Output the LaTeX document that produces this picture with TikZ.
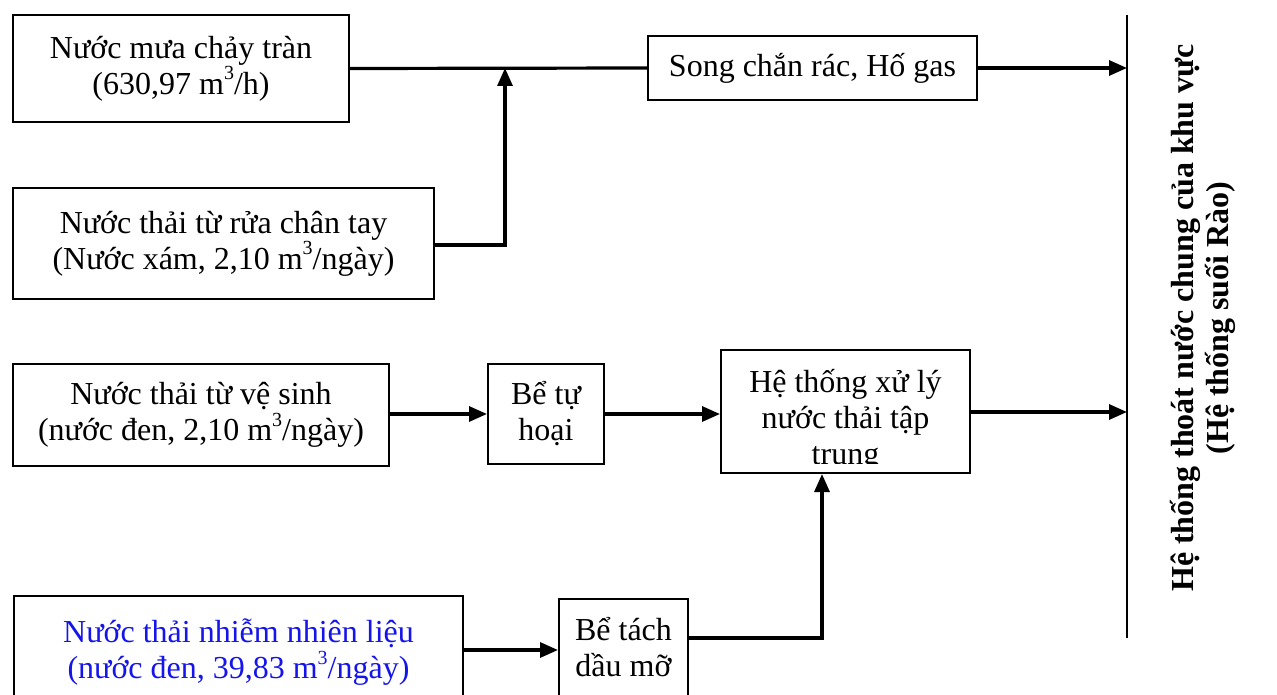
\documentclass[tikz,border=0pt]{standalone}
\usepackage{fontspec}
\setmainfont{Liberation Serif}
\usetikzlibrary{arrows.meta}
\definecolor{fuelblue}{RGB}{20,20,235}
% cubic-metre exponent
\newcommand\cubexp{\raisebox{.45em}{\fontsize{20}{20}\selectfont 3}}
\tikzset{
  boxfont/.style={font=\fontsize{32}{36}\selectfont},
  box/.style={draw, line width=2pt, align=center, inner sep=0pt, boxfont},
  flow/.style={line width=3.2pt},
  flowarrow/.style={flow, -{Triangle[length=18pt,width=15pt]}},
}
\begin{document}
\begin{tikzpicture}[x=1pt,y=-1pt]
\useasboundingbox (0,0) rectangle (1277,695);

% source boxes
\node[box, minimum width=336pt, minimum height=107pt] (rain) at (181,68.5)
  {Nước mưa chảy tràn\\(630,97 m\cubexp/h)};
\node[box, minimum width=421pt, minimum height=111pt] (grey) at (223.5,243.5)
  {Nước thải từ rửa chân tay\\(Nước xám, 2,10 m\cubexp/ngày)};
\node[box, minimum width=376pt, minimum height=102pt] (black) at (201,415)
  {Nước thải từ vệ sinh\\(nước đen, 2,10 m\cubexp/ngày)};
\node[box, minimum width=449pt, minimum height=110pt, anchor=north west,
      text=fuelblue, text depth=4pt] (fuel) at (13,595)
  {Nước thải nhiễm nhiên liệu\\(nước đen, 39,83 m\cubexp/ngày)};

% treatment boxes
\node[box, minimum width=329pt, minimum height=64pt] (screen) at (812.5,68)
  {Song chắn rác, Hố gas};
\node[box, minimum width=116pt, minimum height=100pt] (septic) at (546,414)
  {Bể tự\\hoại};
\node[box, minimum width=249pt, minimum height=123pt] (plant) at (845.5,411.5) {};
\begin{scope}
  \clip (721,350) rectangle (970,463);
  \node[align=center, boxfont, anchor=north, inner sep=0pt]
    (planttext) at (845.5,369) {Hệ thống xử lý\\nước thải tập\\trung};
\end{scope}
\node[box, minimum width=129pt, minimum height=110pt, anchor=north west,
      text depth=14pt] (grease) at (558,598)
  {Bể tách\\dầu mỡ};

% common drainage line
\coordinate (bustop) at (1127,15);
\coordinate (busbot) at (1127,638);
\draw[line width=2pt] (bustop) -- (busbot);
\node[rotate=90, align=center, font=\bfseries\fontsize{32}{35}\selectfont]
  (drain) at (1203,318)
  {Hệ thống thoát nước chung của khu vực\\(Hệ thống suối Rào)};

% connectors
\coordinate (join) at (505,68);
\draw[flow] (rain.east) -- (screen.west);
\draw[flowarrow] (grey.east |- 0,245) -| (join);
\draw[flowarrow] (screen.east) -- (screen.east -| bustop);
\draw[flowarrow] (black.east |- septic) -- (septic.west);
\draw[flowarrow] (septic.east) -- (septic.east -| plant.west);
\draw[flowarrow] (plant.east |- 0,412) -- (bustop |- 0,412);
\draw[flowarrow] (fuel.east |- 0,650) -- (grease.west |- 0,650);
\coordinate (riser) at (822,638);
\draw[flowarrow] (grease.east |- riser) -- (riser) -- (riser |- plant.south);
\end{tikzpicture}
\end{document}
